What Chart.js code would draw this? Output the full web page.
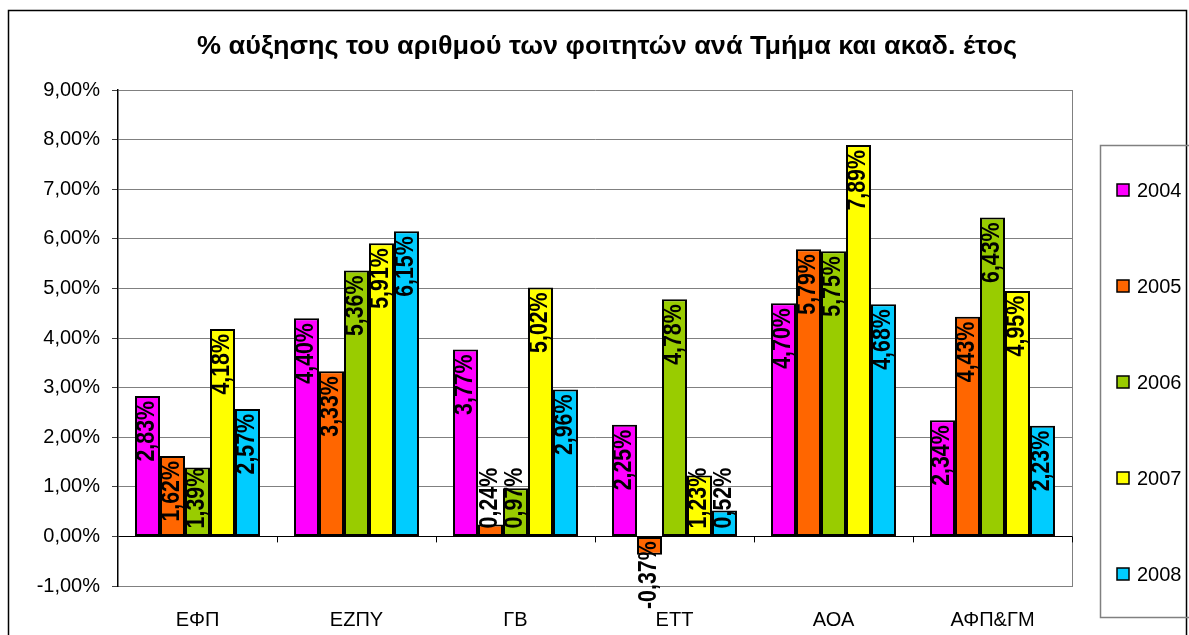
<!DOCTYPE html>
<html>
<head>
<meta charset="utf-8">
<script src="https://cdn.jsdelivr.net/npm/chart.js@4"></script>
<style>
  body { margin: 0; background: #fff; }
  #wrap { width: 1189px; height: 635px; }
</style>
</head>
<body>
<div id="wrap"><canvas id="growthChart" width="1189" height="635"></canvas></div>
<script>
const titleText = '% αύξησης του αριθμού των φοιτητών ανά Τμήμα και ακαδ. έτος';
const departments = ['ΕΦΠ', 'ΕΖΠΥ', 'ΓΒ', 'ΕΤΤ', 'ΑΟΑ', 'ΑΦΠ&ΓΜ'];
const years = ['2004', '2005', '2006', '2007', '2008'];
const y2004 = [2.83, 4.40, 3.77, 2.25, 4.70, 2.34];
const y2005 = [1.62, 3.33, 0.24, -0.37, 5.79, 4.43];
const y2006 = [1.39, 5.36, 0.97, 4.78, 5.75, 6.43];
const y2007 = [4.18, 5.91, 5.02, 1.23, 7.89, 4.95];
const y2008 = [2.57, 6.15, 2.96, 0.52, 4.68, 2.23];
const yTicks = [-1, 0, 1, 2, 3, 4, 5, 6, 7, 8, 9];
const colors = ['#FF00FF', '#FF6600', '#99CC00', '#FFFF00', '#00CCFF'];

const seriesValues = [y2004, y2005, y2006, y2007, y2008];

function pct(v) {
    return v.toFixed(2).replace('.', ',') + '%';
}

// frame, title, legend, zero-line ticks and the rotated data labels
const decorations = {
    id: 'decorations',
    beforeDraw(chart) {
        const ctx = chart.ctx;
        ctx.save();
        ctx.fillStyle = '#fff';
        ctx.fillRect(0, 0, chart.width, chart.height);
        ctx.strokeStyle = '#000';
        ctx.lineWidth = 1.5;
        ctx.strokeRect(8.5, 10.5, 1178, 640);
        ctx.restore();
    },
    afterDatasetsDraw(chart) {
        const ctx = chart.ctx;
        const area = chart.chartArea;
        const y = chart.scales.y;
        const base = y.getPixelForValue(0);

        ctx.save();
        // right border of plot area
        ctx.strokeStyle = '#808080';
        ctx.lineWidth = 1;
        ctx.beginPath();
        ctx.moveTo(area.right + 0.5, area.top);
        ctx.lineTo(area.right + 0.5, area.bottom);
        ctx.stroke();

        // category tick marks on the zero line
        ctx.strokeStyle = '#000';
        const step = (area.right - area.left) / departments.length;
        for (let i = 1; i <= departments.length; i++) {
            const px = Math.round(area.left + step * i) + 0.5;
            ctx.beginPath();
            ctx.moveTo(px, base);
            ctx.lineTo(px, base + 6);
            ctx.stroke();
        }

        // data labels (a bit stretched across the bar, like the original)
        const sx = 0.97, sy = 1.15;
        ctx.fillStyle = '#000';
        ctx.font = 'bold 22px "Liberation Sans", Arial, sans-serif';
        ctx.textBaseline = 'middle';
        chart.data.datasets.forEach((ds, di) => {
            const meta = chart.getDatasetMeta(di);
            meta.data.forEach((bar, i) => {
                const v = ds.data[i];
                const txt = pct(v);
                const L = ctx.measureText(txt).width * sx;
                const h = Math.abs(bar.y - base);
                let pos, align;
                if (v >= 0) {
                    if (h >= L + 13) {
                        align = 'right'; pos = bar.y + 5;
                    } else {
                        align = 'left'; pos = base - 8;
                    }
                } else {
                    align = 'right'; pos = base + 5;
                }
                ctx.save();
                ctx.translate(bar.x, pos);
                ctx.rotate(-Math.PI / 2);
                ctx.scale(sx, sy);
                ctx.textAlign = align;
                ctx.fillText(txt, 0, 0);
                ctx.restore();
            });
        });

        // title
        ctx.font = 'bold 26px "Liberation Sans", Arial, sans-serif';
        ctx.textAlign = 'left';
        ctx.textBaseline = 'alphabetic';
        const tw = ctx.measureText(titleText).width;
        const target = 820;
        ctx.save();
        ctx.translate(197, 54);
        ctx.scale(target / tw, 1);
        ctx.fillText(titleText, 0, 0);
        ctx.restore();

        // legend
        ctx.strokeStyle = '#808080';
        ctx.lineWidth = 1.5;
        ctx.strokeRect(1100.5, 145.5, 120, 472);
        ctx.font = '20px "Liberation Sans", Arial, sans-serif';
        ctx.textBaseline = 'middle';
        years.forEach((yr, i) => {
            const cy = 190 + i * 96;
            ctx.fillStyle = colors[i];
            ctx.fillRect(1117, cy - 6, 12, 12);
            ctx.strokeStyle = '#000';
            ctx.lineWidth = 1.5;
            ctx.strokeRect(1117, cy - 6, 12, 12);
            ctx.fillStyle = '#000';
            ctx.fillText(yr, 1137, cy + 1);
        });
        ctx.restore();
    }
};

new Chart(document.getElementById('growthChart'), {
    type: 'bar',
    data: {
        labels: departments,
        datasets: years.map((yr, i) => ({
            label: yr,
            data: seriesValues[i],
            backgroundColor: colors[i],
            borderColor: '#000',
            borderWidth: 2,
            borderSkipped: false,
            categoryPercentage: 0.786,
            barPercentage: 1.0
        }))
    },
    options: {
        responsive: false,
        animation: false,
        layout: { padding: { top: 90, right: 117, bottom: 0, left: 0 } },
        plugins: {
            legend: { display: false },
            title: { display: false },
            tooltip: { enabled: false }
        },
        scales: {
            x: {
                grid: { display: false, drawTicks: false },
                border: { display: true, color: '#808080', width: 1 },
                ticks: {
                    color: '#000',
                    padding: 22,
                    font: { size: 20, family: '"Liberation Sans", Arial, sans-serif' }
                },
                afterFit(scale) { scale.height = 49; }
            },
            y: {
                min: yTicks[0],
                max: yTicks[yTicks.length - 1],
                afterBuildTicks(scale) {
                    scale.ticks = yTicks.map(v => ({ value: v }));
                },
                grid: {
                    color: c => (c.tick && c.tick.value === 0 ? '#000' : '#808080'),
                    lineWidth: 1,
                    tickLength: 6,
                    tickColor: '#404040'
                },
                border: { display: true, color: '#000', width: 1.5 },
                ticks: {
                    color: '#000',
                    padding: 12,
                    font: { size: 20, family: '"Liberation Sans", Arial, sans-serif' },
                    callback: v => pct(v)
                },
                afterFit(scale) { scale.width = 118; }
            }
        }
    },
    plugins: [decorations]
});
</script>
</body>
</html>
